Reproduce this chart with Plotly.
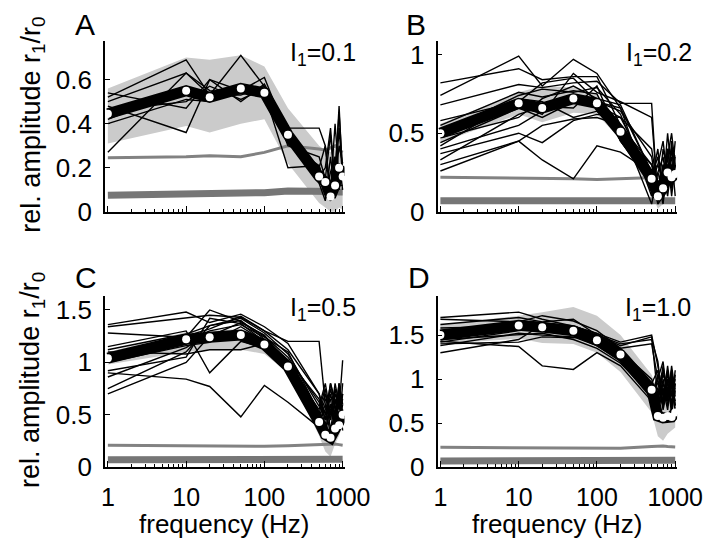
import plotly.graph_objects as go

# ---------------- data ----------------
freqs = [1, 10, 20, 50, 100, 200, 500, 600, 700, 800, 900, 1000]
x_tickvals = [1, 10, 100, 1000]
x_ticktext = ["1", "10", "100", "1000"]
x_minor = [2, 3, 4, 5, 6, 7, 8, 9, 20, 30, 40, 50, 60, 70, 80, 90,
           200, 300, 400, 500, 600, 700, 800, 900]

panel_letters = ["A", "B", "C", "D"]
intensity_labels = ["I<sub>1</sub>=0.1", "I<sub>1</sub>=0.2",
                    "I<sub>1</sub>=0.5", "I<sub>1</sub>=1.0"]
y_ranges = [[0, 0.775], [0, 1.086], [0, 1.63], [0, 1.94]]
y_tickvals = [[0, 0.2, 0.4, 0.6], [0, 0.5, 1], [0, 0.5, 1, 1.5], [0, 0.5, 1, 1.5]]

# Panel A (I1 = 0.1)
a_mean = [0.445, 0.55, 0.52, 0.56, 0.54, 0.35, 0.16, 0.135, 0.07, 0.12, 0.20, 0.16]
a_upper = [0.56, 0.70, 0.69, 0.71, 0.66, 0.47, 0.30, 0.28, 0.27, 0.29, 0.29, 0.27]
a_lower = [0.31, 0.39, 0.36, 0.40, 0.42, 0.22, 0.04, 0.02, 0.00, 0.00, 0.02, 0.01]
a_grey = [0.245, 0.25, 0.255, 0.25, 0.27, 0.30, 0.285, 0.28, 0.29, 0.30, 0.28, 0.27]
a_base = [0.075, 0.08, 0.082, 0.085, 0.087, 0.095, 0.097, 0.095, 0.093, 0.092, 0.09, 0.09]
a_cells = [
    [0.27, 0.63, 0.53, 0.53, 0.57, 0.32, 0.20, 0.10, 0.05, 0.15, 0.48, 0.15],
    [0.54, 0.47, 0.60, 0.50, 0.58, 0.38, 0.38, 0.30, 0.05, 0.25, 0.10, 0.20],
    [0.52, 0.69, 0.53, 0.71, 0.57, 0.30, 0.25, 0.15, 0.35, 0.10, 0.38, 0.15],
    [0.48, 0.36, 0.60, 0.55, 0.61, 0.34, 0.20, 0.30, 0.10, 0.40, 0.15, 0.20],
    [0.50, 0.63, 0.55, 0.54, 0.55, 0.38, 0.16, 0.20, 0.38, 0.12, 0.30, 0.22],
    [0.46, 0.50, 0.57, 0.51, 0.56, 0.31, 0.21, 0.08, 0.18, 0.25, 0.12, 0.12],
    [0.42, 0.56, 0.51, 0.58, 0.54, 0.20, 0.21, 0.12, 0.06, 0.18, 0.45, 0.18],
    [0.40, 0.51, 0.50, 0.55, 0.52, 0.35, 0.13, 0.05, 0.25, 0.08, 0.22, 0.10],
]

# Panel B (I1 = 0.2)
b_mean = [0.50, 0.69, 0.66, 0.72, 0.69, 0.51, 0.21, 0.10, 0.15, 0.25, 0.22, 0.24]
b_upper = [0.56, 0.76, 0.80, 0.79, 0.75, 0.56, 0.26, 0.20, 0.22, 0.30, 0.28, 0.30]
b_lower = [0.44, 0.62, 0.57, 0.63, 0.62, 0.46, 0.12, 0.02, 0.05, 0.18, 0.16, 0.18]
b_grey = [0.22, 0.215, 0.215, 0.21, 0.205, 0.21, 0.215, 0.215, 0.22, 0.21, 0.205, 0.21]
b_base = [0.07, 0.07, 0.07, 0.07, 0.07, 0.07, 0.07, 0.07, 0.07, 0.07, 0.07, 0.07]
b_cells = [
    [0.82, 0.91, 0.84, 0.86, 0.86, 0.55, 0.30, 0.20, 0.10, 0.35, 0.50, 0.30],
    [0.74, 0.99, 0.80, 0.97, 0.88, 0.66, 0.25, 0.30, 0.45, 0.20, 0.40, 0.35],
    [0.68, 0.81, 0.79, 0.82, 0.83, 0.69, 0.69, 0.05, 0.30, 0.15, 0.30, 0.25],
    [0.58, 0.70, 0.82, 0.85, 0.70, 0.64, 0.35, 0.10, 0.25, 0.40, 0.20, 0.45],
    [0.55, 0.76, 0.73, 0.77, 0.75, 0.45, 0.20, 0.40, 0.10, 0.30, 0.25, 0.30],
    [0.50, 0.74, 0.78, 0.76, 0.79, 0.62, 0.15, 0.25, 0.35, 0.15, 0.45, 0.20],
    [0.47, 0.60, 0.72, 0.80, 0.72, 0.68, 0.25, 0.05, 0.10, 0.20, 0.15, 0.30],
    [0.44, 0.66, 0.60, 0.70, 0.68, 0.60, 0.22, 0.35, 0.15, 0.50, 0.25, 0.20],
    [0.42, 0.72, 0.70, 0.60, 0.64, 0.50, 0.30, 0.10, 0.40, 0.25, 0.35, 0.10],
    [0.40, 0.55, 0.64, 0.74, 0.70, 0.66, 0.10, 0.20, 0.05, 0.30, 0.20, 0.35],
    [0.37, 0.50, 0.44, 0.58, 0.62, 0.60, 0.40, 0.15, 0.25, 0.10, 0.30, 0.25],
    [0.33, 0.62, 0.67, 0.66, 0.80, 0.45, 0.18, 0.30, 0.20, 0.35, 0.10, 0.30],
    [0.30, 0.45, 0.33, 0.21, 0.42, 0.38, 0.25, 0.10, 0.30, 0.20, 0.40, 0.20],
    [0.26, 0.45, 0.55, 0.59, 0.60, 0.55, 0.05, 0.25, 0.15, 0.40, 0.20, 0.30],
    [0.52, 0.68, 0.62, 0.88, 0.76, 0.70, 0.60, 0.10, 0.20, 0.30, 0.15, 0.25],
]

# Panel C (I1 = 0.5)
c_mean = [1.04, 1.22, 1.24, 1.26, 1.17, 0.96, 0.43, 0.31, 0.28, 0.37, 0.40, 0.50]
c_upper = [1.10, 1.29, 1.30, 1.32, 1.22, 1.00, 0.48, 0.40, 0.38, 0.45, 0.48, 0.55]
c_lower = [0.98, 1.10, 1.12, 1.12, 1.08, 0.90, 0.30, 0.15, 0.10, 0.22, 0.30, 0.40]
c_grey = [0.21, 0.205, 0.205, 0.20, 0.20, 0.205, 0.215, 0.22, 0.22, 0.22, 0.215, 0.21]
c_base = [0.07, 0.072, 0.072, 0.072, 0.072, 0.072, 0.075, 0.075, 0.075, 0.075, 0.075, 0.075]
c_cells = [
    [1.36, 1.48, 1.38, 1.46, 1.34, 1.18, 0.70, 0.50, 0.80, 0.60, 0.40, 0.70],
    [1.34, 1.42, 1.45, 1.43, 1.30, 1.20, 1.20, 0.60, 0.45, 0.75, 0.55, 1.02],
    [1.28, 1.24, 1.50, 1.39, 1.25, 1.05, 0.62, 0.40, 0.70, 0.50, 0.80, 0.60],
    [1.15, 1.30, 0.90, 1.20, 1.14, 0.98, 0.55, 0.75, 0.35, 0.65, 0.45, 0.55],
    [1.12, 1.27, 1.35, 1.40, 1.22, 1.00, 0.48, 0.65, 0.55, 0.40, 0.70, 0.50],
    [1.10, 1.08, 1.12, 1.12, 1.18, 0.95, 0.40, 0.30, 0.60, 0.45, 0.35, 0.80],
    [1.08, 1.20, 1.30, 1.36, 1.24, 1.10, 0.52, 0.70, 0.45, 0.80, 0.60, 0.45],
    [0.92, 1.05, 1.42, 1.37, 1.20, 1.02, 0.65, 0.45, 0.75, 0.55, 0.65, 0.35],
    [0.90, 0.84, 0.77, 0.48, 0.78, 0.62, 0.38, 0.28, 0.35, 0.50, 0.40, 0.60],
    [0.86, 1.14, 1.28, 1.30, 1.15, 1.00, 0.45, 0.55, 0.65, 0.35, 0.75, 0.50],
    [0.75, 1.10, 1.35, 1.42, 1.28, 1.08, 0.58, 0.80, 0.50, 0.70, 0.55, 0.70],
    [0.70, 1.00, 1.25, 1.38, 1.26, 0.98, 0.50, 0.35, 0.60, 0.45, 0.80, 0.40],
    [1.00, 1.16, 1.19, 1.34, 1.20, 0.90, 0.42, 0.60, 0.30, 0.55, 0.35, 0.55],
    [1.05, 1.25, 1.32, 1.44, 1.30, 1.12, 0.70, 0.45, 0.80, 0.65, 0.50, 0.65],
]

# Panel D (I1 = 1.0)
d_mean = [1.50, 1.61, 1.59, 1.55, 1.44, 1.28, 0.88, 0.58, 0.56, 0.58, 0.57, 0.62]
d_upper = [1.62, 1.72, 1.76, 1.82, 1.72, 1.50, 1.05, 0.85, 0.80, 0.85, 0.85, 0.80]
d_lower = [1.40, 1.46, 1.41, 1.40, 1.30, 1.08, 0.62, 0.35, 0.30, 0.38, 0.42, 0.45]
d_grey = [0.225, 0.22, 0.22, 0.22, 0.22, 0.215, 0.235, 0.24, 0.24, 0.235, 0.235, 0.23]
d_base = [0.07, 0.072, 0.072, 0.072, 0.072, 0.072, 0.075, 0.078, 0.078, 0.078, 0.078, 0.078]
d_cells = [
    [1.70, 1.76, 1.68, 1.60, 1.52, 1.42, 1.50, 1.15, 0.80, 1.10, 0.70, 0.95],
    [1.68, 1.65, 1.72, 1.66, 1.55, 1.35, 1.40, 1.00, 1.20, 0.75, 1.15, 0.85],
    [1.62, 1.70, 1.65, 1.68, 1.50, 1.38, 1.48, 0.80, 1.05, 0.90, 0.70, 1.10],
    [1.58, 1.60, 1.62, 1.58, 1.45, 1.30, 0.95, 1.10, 0.70, 1.05, 0.90, 0.65],
    [1.55, 1.62, 1.60, 1.56, 1.46, 1.28, 0.85, 0.70, 0.95, 0.75, 1.10, 0.80],
    [1.52, 1.58, 1.56, 1.52, 1.42, 1.25, 0.90, 0.95, 0.75, 1.15, 0.80, 1.00],
    [1.50, 1.64, 1.60, 1.55, 1.48, 1.32, 1.00, 0.75, 1.10, 0.85, 1.05, 0.70],
    [1.46, 1.57, 1.55, 1.50, 1.40, 1.22, 0.80, 1.05, 0.85, 0.95, 0.65, 1.05],
    [1.42, 1.55, 1.58, 1.55, 1.44, 1.26, 0.88, 0.65, 1.00, 0.70, 0.95, 0.75],
    [1.38, 1.52, 1.50, 1.48, 1.38, 1.20, 0.78, 0.90, 0.70, 1.00, 0.85, 0.90],
    [1.30, 1.45, 1.62, 1.60, 1.52, 1.35, 0.92, 0.80, 1.15, 0.80, 1.10, 0.60],
    [1.43, 1.37, 1.15, 1.11, 1.30, 1.15, 0.75, 1.00, 0.65, 0.90, 0.75, 0.85],
    [1.45, 1.50, 1.52, 1.45, 1.35, 1.18, 0.82, 0.60, 0.90, 0.65, 1.00, 0.70],
    [1.40, 1.42, 1.48, 1.47, 1.50, 1.40, 1.45, 1.20, 0.70, 1.00, 0.60, 0.95],
]

panels = [
    (a_mean, a_upper, a_lower, a_grey, a_base, a_cells),
    (b_mean, b_upper, b_lower, b_grey, b_base, b_cells),
    (c_mean, c_upper, c_lower, c_grey, c_base, c_cells),
    (d_mean, d_upper, d_lower, d_grey, d_base, d_cells),
]

# ---------------- layout geometry ----------------
W, H = 720, 546
x_doms = [[97 / W, 347 / W], [444 / W, 694 / W], [97 / W, 347 / W], [444 / W, 694 / W]]
y_doms = [[1 - 209 / H, 1 - 33 / H], [1 - 209 / H, 1 - 33 / H],
          [1 - 472 / H, 1 - 296 / H], [1 - 472 / H, 1 - 296 / H]]

FONT = "Liberation Sans, Arial, Helvetica, sans-serif"
BAND = "#cbcbcb"
GREY = "#828282"
BASE = "#767676"

fig = go.Figure()

for i, (mean, upper, lower, grey, base, cells) in enumerate(panels):
    xa = "x" if i == 0 else f"x{i+1}"
    ya = "y" if i == 0 else f"y{i+1}"
    # shaded band
    fig.add_trace(go.Scatter(x=freqs + freqs[::-1], y=upper + lower[::-1],
                             fill="toself", fillcolor=BAND, line=dict(width=0),
                             mode="lines", hoverinfo="skip", showlegend=False,
                             xaxis=xa, yaxis=ya))
    # grey reference lines
    fig.add_trace(go.Scatter(x=freqs, y=grey, mode="lines",
                             line=dict(color=GREY, width=3),
                             showlegend=False, xaxis=xa, yaxis=ya))
    fig.add_trace(go.Scatter(x=freqs, y=base, mode="lines",
                             line=dict(color=BASE, width=7),
                             showlegend=False, xaxis=xa, yaxis=ya))
    # individual cells
    for cell in cells:
        fig.add_trace(go.Scatter(x=freqs, y=cell, mode="lines",
                                 line=dict(color="black", width=1.4),
                                 showlegend=False, xaxis=xa, yaxis=ya))
    # mean
    fig.add_trace(go.Scatter(x=freqs, y=mean, mode="lines",
                             line=dict(color="black", width=11),
                             showlegend=False, xaxis=xa, yaxis=ya))
    fig.add_trace(go.Scatter(x=freqs, y=mean, mode="markers",
                             marker=dict(color="white", size=8, line=dict(width=0)),
                             showlegend=False, xaxis=xa, yaxis=ya))

layout = dict(width=W, height=H, autosize=False,
              margin=dict(l=0, r=0, t=0, b=0),
              paper_bgcolor="white", plot_bgcolor="rgba(0,0,0,0)",
              font=dict(family=FONT, size=25, color="black"),
              showlegend=False)

for i in range(4):
    xkey = "xaxis" if i == 0 else f"xaxis{i+1}"
    ykey = "yaxis" if i == 0 else f"yaxis{i+1}"
    anchor_y = "y" if i == 0 else f"y{i+1}"
    anchor_x = "x" if i == 0 else f"x{i+1}"
    layout[xkey] = dict(domain=x_doms[i], anchor=anchor_y, type="log",
                        range=[-0.037, 3.024], showgrid=False, zeroline=False,
                        showline=True, linecolor="black", linewidth=1.5,
                        ticks="inside", ticklen=6, tickwidth=1.3, tickcolor="black",
                        tickmode="array", tickvals=x_tickvals, ticktext=x_ticktext,
                        showticklabels=(i >= 2), ticklabelstandoff=7,
                        minor=dict(ticks="inside", ticklen=3, tickwidth=1.2,
                                   tickcolor="black", tickmode="array",
                                   tickvals=x_minor, showgrid=False),
                        tickfont=dict(family=FONT, size=25))
    layout[ykey] = dict(domain=y_doms[i], anchor=anchor_x, range=y_ranges[i],
                        showgrid=False, zeroline=False, showline=True,
                        linecolor="black", linewidth=1.5, ticks="inside",
                        ticklen=5, tickwidth=1.3, tickcolor="black",
                        tickmode="array", tickvals=y_tickvals[i],
                        ticklabelstandoff=6,
                        tickfont=dict(family=FONT, size=26))

annotations = []
letter_pos = [(76, 16), (422, 16), (77, 277), (425, 277)]
for i, (px, py) in enumerate(letter_pos):
    annotations.append(dict(text=panel_letters[i], x=px / W, y=1 - py / H,
                            xref="paper", yref="paper", showarrow=False,
                            xanchor="center", yanchor="middle",
                            font=dict(family=FONT, size=30)))
lab_pos = [(361, 28), (712, 28), (361, 291), (711, 291)]
for i, (px, py) in enumerate(lab_pos):
    annotations.append(dict(text=intensity_labels[i], x=px / W, y=1 - py / H,
                            xref="paper", yref="paper", showarrow=False,
                            xanchor="right", yanchor="top",
                            font=dict(family=FONT, size=25)))
for cy in [119, 382]:
    annotations.append(dict(text="rel. amplitude r<sub>1</sub>/r<sub>0</sub>",
                            x=21 / W, y=1 - cy / H, xref="paper", yref="paper",
                            showarrow=False, textangle=-90,
                            xanchor="center", yanchor="middle",
                            font=dict(family=FONT, size=27)))
for cx in [222, 569]:
    annotations.append(dict(text="frequency (Hz)", x=cx / W, y=1 - 531 / H,
                            xref="paper", yref="paper", showarrow=False,
                            xanchor="center", yanchor="middle",
                            font=dict(family=FONT, size=26)))
layout["annotations"] = annotations

fig.update_layout(**layout)
fig.write_html("out.html")
